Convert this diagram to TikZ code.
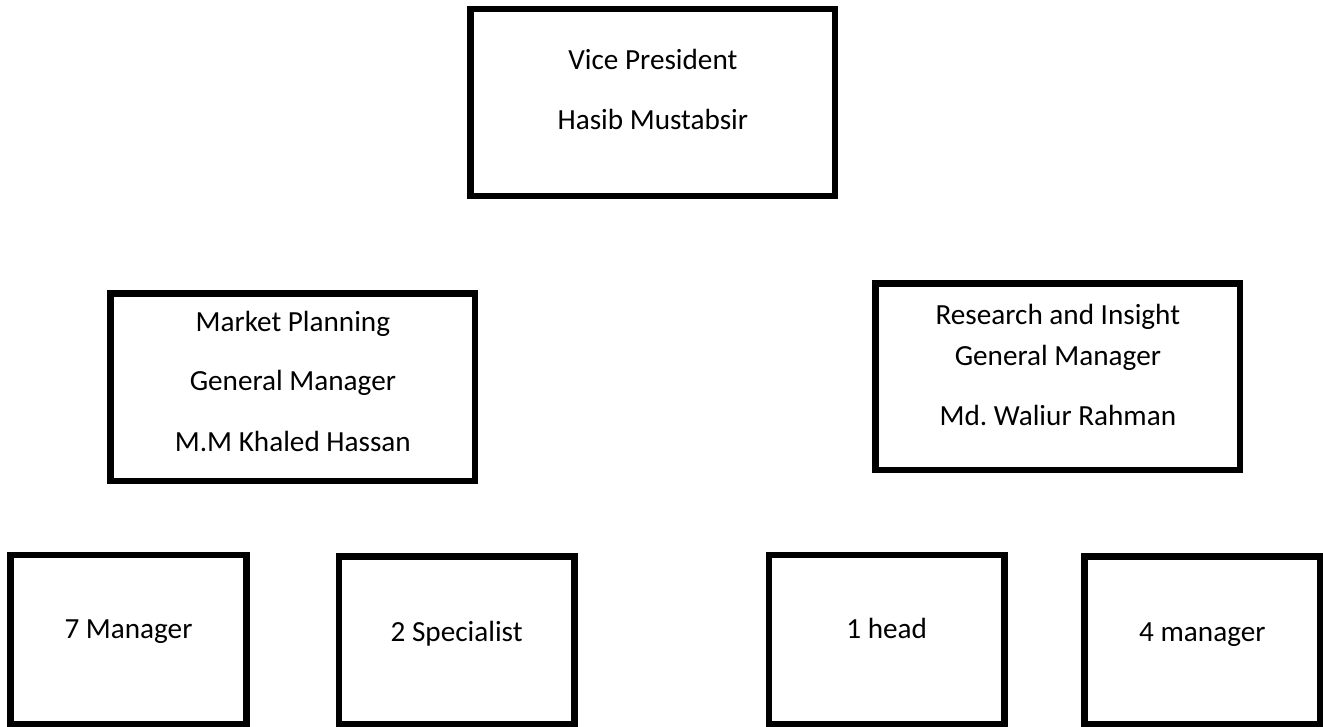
\documentclass[tikz,border=0pt]{standalone}
\usepackage{fontspec}
\setmainfont{Carlito}
\frenchspacing
\begin{document}
\begin{tikzpicture}[x=0.5pt,y=-0.5pt,
  box/.style={draw=black,line width=3.25pt,line join=miter,rectangle,inner sep=0pt,fill=white},
  lbl/.style={anchor=base,inner sep=0pt,font=\fontsize{14.6}{17}\selectfont}]
\fill[white] (0,0) rectangle (1323,727);
\useasboundingbox (0,0) rectangle (1323,727);
% boxes
\node[box,minimum width=182.15pt,minimum height=93.5pt] (vp) at (652.85,102.5) {};
\node[box,minimum width=182.15pt,minimum height=93.85pt] (mp) at (292.85,387.15) {};
\node[box,minimum width=182.15pt,minimum height=93.35pt] (ri) at (1057.85,376.65) {};
\node[box,minimum width=117.8pt,minimum height=84.5pt] (b1) at (128.5,639.5) {};
\node[box,minimum width=117.85pt,minimum height=83.65pt] (b2) at (456.65,640.35) {};
\node[box,minimum width=117.85pt,minimum height=84.5pt] (b3) at (886.65,639.5) {};
\node[box,minimum width=117.85pt,minimum height=83.65pt] (b4) at (1202.35,640.35) {};
% texts
\node[lbl] (vp1) at (652.85,70) {Vice President};
\node[lbl] (vp2) at (652.85,130) {Hasib Mustabsir};
\node[lbl] (mp1) at (292.85,331.7) {Market Planning};
\node[lbl] (mp2) at (292.85,391) {General Manager};
\node[lbl] (mp3) at (292.85,451.7) {M.M Khaled Hassan};
\node[lbl] (ri1) at (1057.85,325) {Research and Insight};
\node[lbl] (ri2) at (1057.85,365) {General Manager};
\node[lbl] (ri3) at (1057.85,425) {Md.\ Waliur Rahman};
\node[lbl] (t1) at (128.5,638) {7 Manager};
\node[lbl] (t2) at (456.65,641) {2 Specialist};
\node[lbl] (t3) at (886.65,638) {1 head};
\node[lbl] (t4) at (1202.35,641) {4 manager};
\end{tikzpicture}
\end{document}
